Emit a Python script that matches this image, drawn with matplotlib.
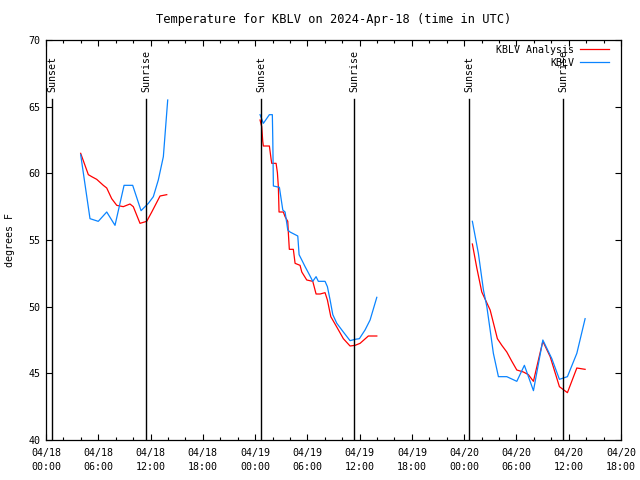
import numpy as np
import pandas as pd
import matplotlib
matplotlib.use('Agg')
import matplotlib.pyplot as plt
import matplotlib.dates as mdates

START = pd.Timestamp('2024-04-18 00:00')

# hours since 04/18 00:00 UTC, NaN separates the gaps
ana_hours = [3.98, 4.86, 5.25, 5.82, 6.58, 6.97, 7.54, 8.12, 8.87, 9.64, 10.02, 10.79, 11.56, 12.14, 13.09, 13.86, np.nan,
             24.57, 24.76, 24.88, 24.95, 25.64, 25.83, 25.91, 26.41, 26.56, 26.67, 26.75, 27.24, 27.44, 27.75, 27.82,
             27.93, 28.39, 28.59, 29.16, 29.36, 29.93, 30.62, 31.0, 31.46, 32.03, 32.3, 32.69, 33.44, 34.13, 34.9,
             35.48, 36.05, 37.0, 37.97, np.nan,
             48.94, 49.45, 50.02, 50.52, 50.98, 51.81, 52.32, 52.89, 53.47, 54.04, 54.8, 55.37, 55.95, 56.52, 57.03,
             57.87, 58.93, 59.85, 60.93, 61.88]
ana_temp = [61.5, 59.9, 59.75, 59.55, 59.1, 58.9, 58.1, 57.6, 57.5, 57.7, 57.5, 56.25, 56.4, 57.1, 58.3, 58.4, np.nan,
            64.0, 63.5, 62.4, 62.05, 62.05, 61.1, 60.75, 60.75, 60.05, 59.0, 57.1, 57.1, 56.75, 56.4, 55.5,
            54.3, 54.3, 53.25, 53.1, 52.6, 52.0, 51.9, 50.95, 50.95, 51.05, 50.5, 49.25, 48.4, 47.6, 47.05,
            47.1, 47.25, 47.8, 47.8, np.nan,
            54.7, 52.9, 51.1, 50.4, 49.75, 47.6, 47.1, 46.6, 45.9, 45.25, 45.1, 44.9, 44.4, 46.0, 47.4,
            46.25, 44.0, 43.55, 45.4, 45.3]

obs_hours = [3.98, 5.05, 6.0, 6.97, 7.92, 8.96, 9.95, 10.91, 11.75, 12.32, 12.89, 13.47, 13.97, np.nan,
             24.57, 24.95, 25.64, 25.98, 26.03, 26.1, 26.79, 26.95, 27.18, 27.44, 27.64, 27.75, 28.01, 28.9,
             29.05, 29.36, 29.74, 30.23, 30.62, 31.0, 31.26, 32.03, 32.3, 32.61, 32.92, 33.38, 34.13, 34.9,
             35.48, 35.97, 36.62, 37.2, 37.97, np.nan,
             48.94, 49.63, 50.21, 50.6, 50.98, 51.35, 51.93, 52.89, 54.04, 54.91, 55.95, 57.03, 58.06, 58.93,
             59.85, 60.93, 61.88]
obs_temp = [61.4, 56.6, 56.4, 57.1, 56.1, 59.1, 59.1, 57.2, 57.75, 58.25, 59.5, 61.25, 65.5, np.nan,
            64.4, 63.75, 64.4, 64.4, 62.6, 59.05, 58.95, 58.25, 57.25, 57.1, 56.25, 55.75, 55.6, 55.3,
            53.9, 53.5, 53.0, 52.4, 51.9, 52.25, 51.9, 51.9, 51.5, 50.5, 49.4, 48.75, 48.1, 47.45,
            47.55, 47.6, 48.25, 49.0, 50.7, np.nan,
            56.4, 54.0, 51.25, 50.0, 48.25, 46.5, 44.75, 44.75, 44.4, 45.6, 43.7, 47.5, 46.1, 44.55,
            44.75, 46.5, 49.1]

sun_hours = [0.69, 11.48, 24.68, 35.36, 48.56, 59.36]
sun_labels = ['Sunset', 'Sunrise', 'Sunset', 'Sunrise', 'Sunset', 'Sunrise']


def to_time(h):
    return START + pd.to_timedelta(np.asarray(h, dtype=float), unit='h')


plt.rcParams['font.family'] = 'DejaVu Sans Mono'
plt.rcParams['font.size'] = 7.2

fig = plt.figure(figsize=(6.4, 4.8), dpi=100)
ax = fig.add_axes([46 / 640, 40 / 480, 575 / 640, 400 / 480])

ax.plot(to_time(ana_hours), ana_temp, color='#ff0000', lw=0.9, label='KBLV Analysis')
ax.plot(to_time(obs_hours), obs_temp, color='#0a84ff', lw=0.9, label='KBLV')

for h, lab in zip(sun_hours, sun_labels):
    t = to_time([h])[0]
    ax.plot([t, t], [0, 0.852], color='black', lw=1.0, transform=ax.get_xaxis_transform())
    ax.text(t, 0.87, lab, rotation=90, ha='center', va='bottom', transform=ax.get_xaxis_transform())

ax.set_xlim(START, START + pd.Timedelta(hours=66))
ax.set_ylim(40, 70)
ax.set_yticks(np.arange(40, 71, 5))
ax.xaxis.set_major_locator(mdates.HourLocator(byhour=[0, 6, 12, 18]))
ax.xaxis.set_minor_locator(mdates.HourLocator(interval=2))
ax.xaxis.set_major_formatter(mdates.DateFormatter('%m/%d\n%H:%M'))
ax.tick_params(which='both', direction='in', top=True, right=True, width=0.8, colors='black')
ax.tick_params(which='major', length=4.5)
ax.tick_params(which='minor', length=2.5)
ax.tick_params(axis='x', which='major', pad=6)
ax.tick_params(axis='y', pad=4)
for lbl in ax.get_xticklabels():
    lbl.set_linespacing(1.4)
for s in ax.spines.values():
    s.set_linewidth(0.9)

ax.set_ylabel('degrees F')
ax.yaxis.set_label_coords(-31 / 575, 0.5)
ax.set_title('Temperature for KBLV on 2024-Apr-18 (time in UTC)', pad=12)

ax.legend(loc='upper right', bbox_to_anchor=(1.0 - 8 / 575, 1.0 - 1 / 400), frameon=False, markerfirst=False,
          handlelength=2.9, handletextpad=0.6, labelspacing=0.3, borderaxespad=0.2, borderpad=0.2)

plt.savefig('out.png', dpi=100)
